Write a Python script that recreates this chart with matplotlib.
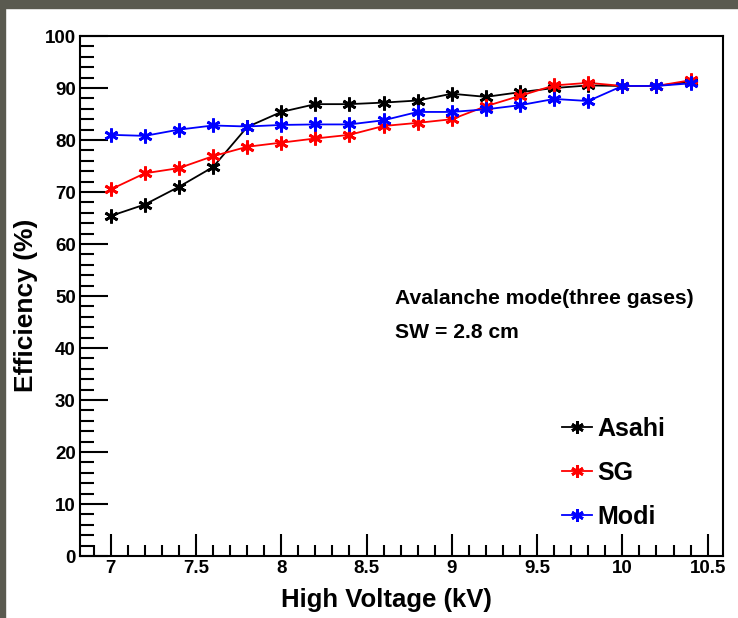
import matplotlib
matplotlib.use('Agg')
import matplotlib.pyplot as plt
from matplotlib.patches import Rectangle
from matplotlib.ticker import MultipleLocator

plt.rcParams['font.family'] = ['Liberation Sans', 'DejaVu Sans']

# 数据
voltage = [7.0, 7.2, 7.4, 7.6, 7.8, 8.0, 8.2, 8.4, 8.6, 8.8,
           9.0, 9.2, 9.4, 9.6, 9.8, 10.0, 10.2, 10.4]
asahi = [65.4, 67.6, 71.0, 74.8, 82.5, 85.4, 86.9, 86.9, 87.2, 87.6,
         88.9, 88.3, 89.2, 90.0, 90.5, 90.4, 90.4, 91.2]
sg = [70.5, 73.6, 74.6, 76.9, 78.7, 79.5, 80.3, 81.0, 82.7, 83.3,
      84.0, 86.5, 88.5, 90.5, 91.0, 90.4, 90.4, 91.5]
modi = [81.0, 80.8, 82.0, 82.8, 82.6, 82.9, 83.0, 83.0, 83.8, 85.4,
        85.4, 85.9, 86.7, 87.9, 87.5, 90.4, 90.4, 90.9]

series = [('Asahi', asahi, 'black'), ('SG', sg, 'red'), ('Modi', modi, 'blue')]

fig = plt.figure(figsize=(7.38, 6.18), dpi=100)
ax = fig.add_axes([0.1084, 0.1003, 0.8713, 0.8414])

# 边框（截图边缘的深色条）
fig.patches.append(Rectangle((0, 0), 5 / 738, 1, transform=fig.transFigure,
                             color='#5a5a50', zorder=-1))
fig.patches.append(Rectangle((0, 1 - 8 / 618), 1, 8 / 618, transform=fig.transFigure,
                             color='#5a5a50', zorder=-1))

for name, vals, col in series:
    ax.plot(voltage, vals, color=col, lw=1.3, marker=(6, 2, 0), ms=10,
            mew=2.0, label=name)

ax.set_xlim(6.82, 10.59)
ax.set_ylim(0, 100)
ax.xaxis.set_major_locator(MultipleLocator(0.5))
ax.xaxis.set_minor_locator(MultipleLocator(0.1))
ax.yaxis.set_major_locator(MultipleLocator(10))
ax.yaxis.set_minor_locator(MultipleLocator(2))
ax.set_xticks([7, 7.5, 8, 8.5, 9, 9.5, 10, 10.5])
ax.set_xticklabels(['7', '7.5', '8', '8.5', '9', '9.5', '10', '10.5'])

ax.tick_params(which='both', direction='in', top=False, right=False, width=1.5)
ax.tick_params(axis='y', which='major', length=20, labelsize=13.5, pad=3)
ax.tick_params(axis='y', which='minor', length=10)
ax.tick_params(axis='x', which='major', length=16, labelsize=13.5, pad=3)
ax.tick_params(axis='x', which='minor', length=8)
for lab in ax.get_xticklabels() + ax.get_yticklabels():
    lab.set_fontweight('bold')
for sp in ax.spines.values():
    sp.set_linewidth(1.5)

ax.set_xlabel('High Voltage (kV)', fontsize=18.5, fontweight='bold')
ax.set_ylabel('Efficiency (%)', fontsize=19, fontweight='bold')
ax.xaxis.set_label_coords(0.477, -0.0615)
ax.yaxis.set_label_coords(-0.065, 0.483)

ax.text(0.49, 0.485, 'Avalanche mode(three gases)', transform=ax.transAxes,
        fontsize=15.2, fontweight='bold')
ax.text(0.49, 0.42, 'SW = 2.8 cm', transform=ax.transAxes,
        fontsize=15.2, fontweight='bold')

leg = ax.legend(loc='upper left', bbox_to_anchor=(0.7496, 0.267), frameon=False,
                prop={'size': 18, 'weight': 'bold'}, handlelength=1.2,
                handletextpad=0.2, labelspacing=0.8, markerscale=0.9,
                borderpad=0, borderaxespad=0)

fig.savefig('out.png', dpi=100)
